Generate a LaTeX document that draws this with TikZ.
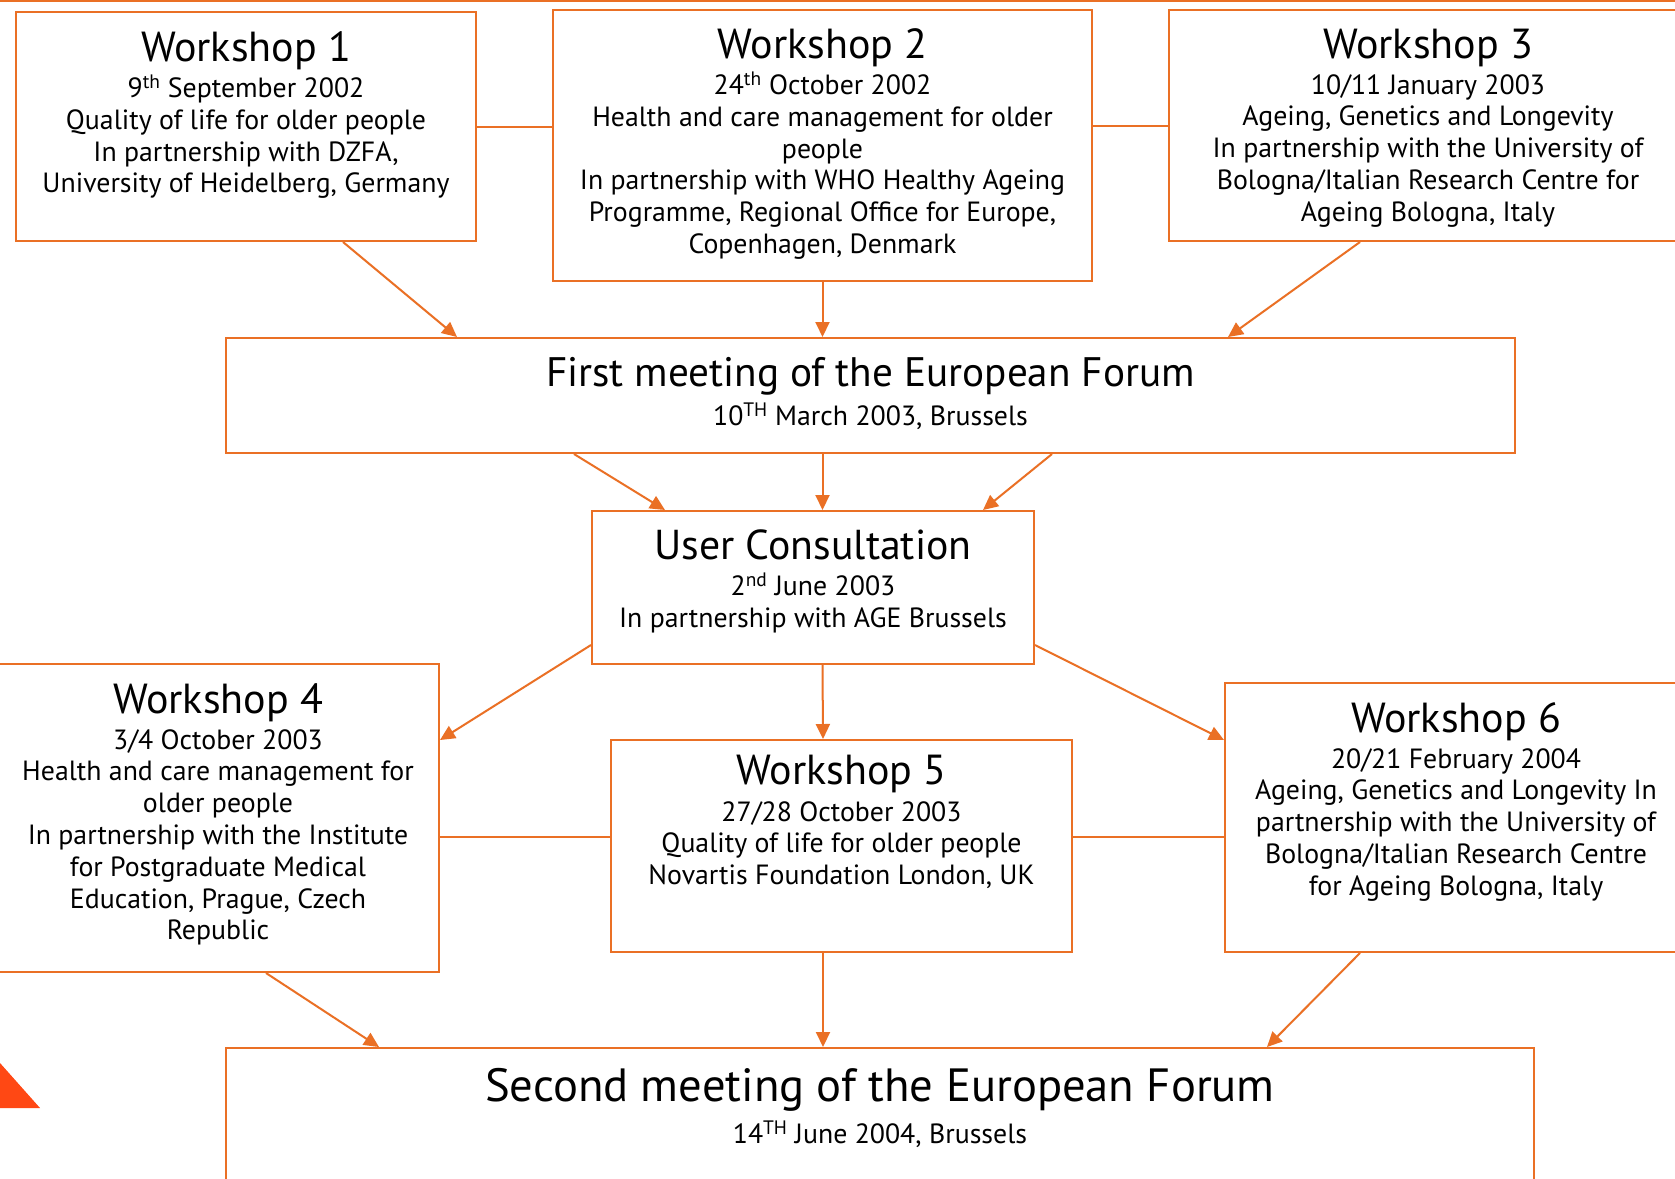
\documentclass[tikz,border=0pt]{standalone}
\usepackage{fontspec}
\setmainfont{PT Sans}
\usetikzlibrary{arrows.meta}
\definecolor{forange}{RGB}{234,112,37}
\definecolor{cornerred}{RGB}{255,72,20}
\tikzset{
    event/.style={
           rectangle,
           draw=forange, line width=2pt,
           inner sep=0pt,
           },
}
\tikzset{
    heading/.style={
           anchor=base,
           inner sep=0pt,
           font=\fontsize{42}{50}\selectfont,
           },
}
\tikzset{
    details/.style={
           anchor=north,
           inner sep=0pt,
           align=center,
           font=\fontsize{27.8}{31.8}\selectfont,
           },
}
\tikzset{
    link/.style={
           draw=forange, line width=2pt,
           },
}
\tikzset{
    flow/.style={
           link,
           -{Triangle[length=15pt,width=14pt]},
           },
}
\begin{document}
\begin{tikzpicture}[x=1pt,y=-1pt]
\fill[white] (0,0) rectangle (1675,1178);
\useasboundingbox (0,0) rectangle (1675,1178);
\draw[link] (0,1) -- (1675,1);
\fill[cornerred] (0,1063) -- (40,1108) -- (0,1108) -- cycle;

% boxes
\node[event,minimum width=460pt,minimum height=229pt](ws1) at (246,126.5){};
\node[event,minimum width=539pt,minimum height=271pt](ws2) at (822.5,145.5){};
\node[event,minimum width=518pt,minimum height=231pt](ws3) at (1428,125.5){};
\node[event,minimum width=1289pt,minimum height=115pt](forum1) at (870.5,395.5){};
\node[event,minimum width=442pt,minimum height=153pt](users) at (813,587.5){};
\node[event,minimum width=442pt,minimum height=308pt](ws4) at (218,818){};
\node[event,minimum width=461pt,minimum height=212pt](ws5) at (841.5,846){};
\node[event,minimum width=462pt,minimum height=269pt](ws6) at (1456,817.5){};
\node[event,minimum width=1308pt,minimum height=152pt](forum2) at (880,1124){};

% texts
\node[heading,yshift=-50pt](ws1t) at (ws1.north){Workshop 1};
\node[details,yshift=-63.7pt](ws1b) at (ws1.north){\strut 9\textsuperscript{th} September 2002\\Quality of life for older people\\In partnership with DZFA,\\University of Heidelberg, Germany};
\node[heading,yshift=-49pt](ws2t) at (ws2.north){Workshop 2};
\node[details,yshift=-62.7pt](ws2b) at (ws2.north){\strut 24\textsuperscript{th} October 2002\\Health and care management for older\\people\\In partnership with WHO Healthy Ageing\\Programme, Regional Office for Europe,\\Copenhagen, Denmark};
\node[heading,yshift=-49pt](ws3t) at (ws3.north){Workshop 3};
\node[details,yshift=-62.7pt](ws3b) at (ws3.north){\strut 10/11 January 2003\\Ageing, Genetics and Longevity\\In partnership with the University of\\Bologna/Italian Research Centre for\\Ageing Bologna, Italy};
\node[heading,yshift=-49pt,font=\fontsize{41.2}{50}\selectfont](forum1t) at (forum1.north){First meeting of the European Forum};
\node[details,yshift=-66pt](forum1b) at (forum1.north){\strut 10\textsuperscript{TH} March 2003, Brussels};
\node[heading,yshift=-49pt,font=\fontsize{41.8}{50}\selectfont](userst) at (users.north){User Consultation};
\node[details,yshift=-62.7pt](usersb) at (users.north){\strut 2\textsuperscript{nd} June 2003\\In partnership with AGE Brussels};
\node[heading,yshift=-50pt](ws4t) at (ws4.north){Workshop 4};
\node[details,yshift=-63.7pt](ws4b) at (ws4.north){\strut 3/4 October 2003\\Health and care management for\\older people\\In partnership with the Institute\\for Postgraduate Medical\\Education, Prague, Czech\\Republic};
\node[heading,yshift=-45pt](ws5t) at (ws5.north){Workshop 5};
\node[details,yshift=-59.7pt](ws5b) at (ws5.north){\strut 27/28 October 2003\\Quality of life for older people\\Novartis Foundation London, UK};
\node[heading,yshift=-50pt](ws6t) at (ws6.north){Workshop 6};
\node[details,yshift=-63.7pt](ws6b) at (ws6.north){\strut 20/21 February 2004\\Ageing, Genetics and Longevity In\\partnership with the University of\\Bologna/Italian Research Centre\\for Ageing Bologna, Italy};
\node[heading,yshift=-54pt,font=\fontsize{46.6}{55}\selectfont](forum2t) at (forum2.north){Second meeting of the European Forum};
\node[details,yshift=-73.7pt](forum2b) at (forum2.north){\strut 14\textsuperscript{TH} June 2004, Brussels};

% connectors
\draw[link] (ws1.east) -- ([yshift=19pt]ws2.west);
\draw[link] ([yshift=20pt]ws2.east) -- (ws3.west);
\draw[flow] ([xshift=97pt]ws1.south) -- ([xshift=-413.5pt]forum1.north);
\draw[flow] (ws2.south) -- ([xshift=-48pt]forum1.north);
\draw[flow] ([xshift=-68pt]ws3.south) -- ([xshift=357.5pt]forum1.north);
\draw[flow] ([xshift=-296.5pt]forum1.south) -- ([xshift=-148pt]users.north);
\draw[flow] ([xshift=-48pt]forum1.south) -- ([xshift=9.5pt]users.north);
\draw[flow] ([xshift=181.5pt]forum1.south) -- ([xshift=170pt]users.north);
\draw[flow] ([yshift=-57.5pt]users.west) -- ([yshift=78pt]ws4.east);
\draw[flow] ([xshift=9.5pt]users.south) -- ([xshift=-18.5pt]ws5.north);
\draw[flow] ([yshift=-57.5pt]users.east) -- ([yshift=77.5pt]ws6.west);
\draw[link] ([yshift=-19pt]ws4.east) -- ([yshift=9pt]ws5.west);
\draw[link] ([yshift=9pt]ws5.east) -- ([yshift=-19.5pt]ws6.west);
\draw[flow] ([xshift=48pt]ws4.south) -- ([xshift=-501pt]forum2.north);
\draw[flow] ([xshift=-18.5pt]ws5.south) -- ([xshift=-57pt]forum2.north);
\draw[flow] ([xshift=-96pt]ws6.south) -- ([xshift=387pt]forum2.north);
\end{tikzpicture}
\end{document}
